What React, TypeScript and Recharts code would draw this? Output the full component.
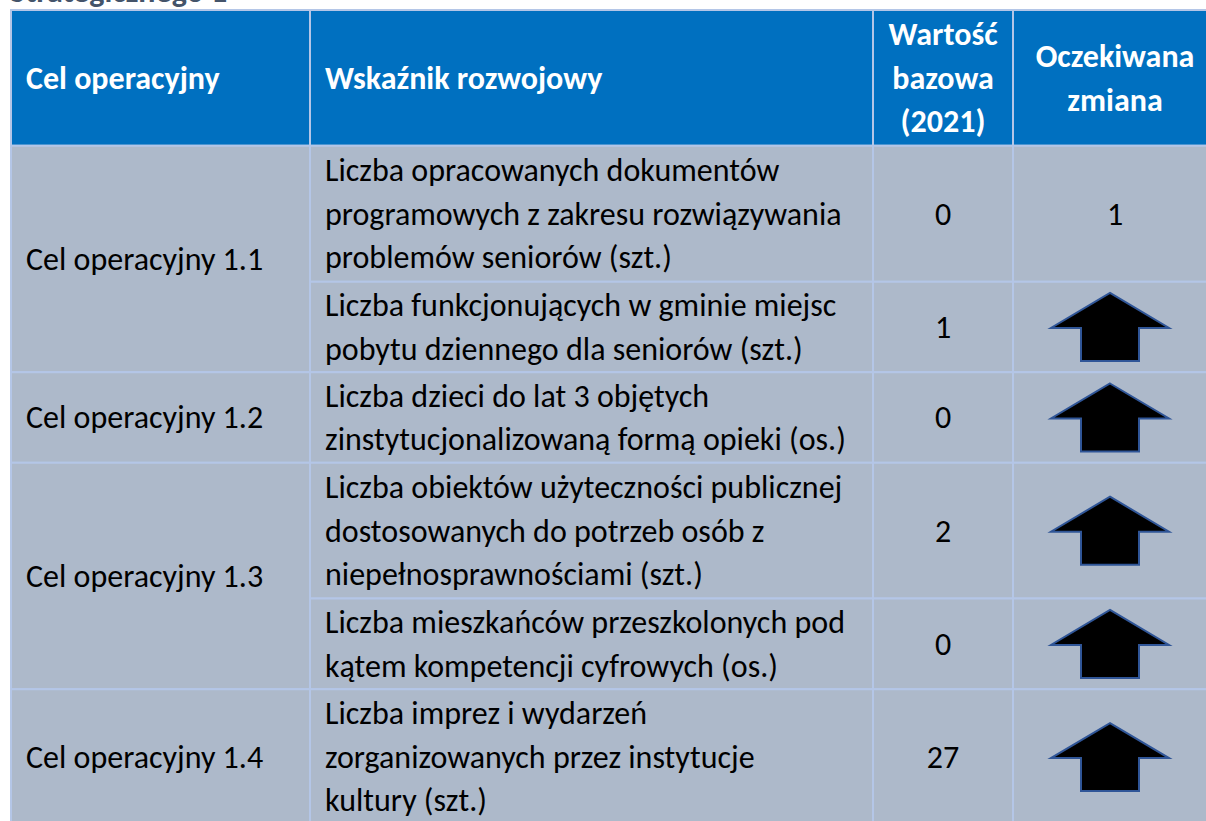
import { ComposedChart, XAxis, YAxis, ReferenceArea, Scatter } from "recharts";

const HEADERS = [
  ["Cel operacyjny"],
  ["Wskaźnik rozwojowy"],
  ["Wartość", "bazowa", "(2021)"],
  ["Oczekiwana", "zmiana"],
];
const GOALS = ["Cel operacyjny 1.1", "Cel operacyjny 1.2", "Cel operacyjny 1.3", "Cel operacyjny 1.4"];
const INDICATOR_GOAL = [0, 0, 1, 2, 2, 3];
const INDICATORS = [
  ["Liczba opracowanych dokumentów", "programowych z zakresu rozwiązywania", "problemów seniorów (szt.)"],
  ["Liczba funkcjonujących w gminie miejsc", "pobytu dziennego dla seniorów (szt.)"],
  ["Liczba dzieci do lat 3 objętych", "zinstytucjonalizowaną formą opieki (os.)"],
  ["Liczba obiektów użyteczności publicznej", "dostosowanych do potrzeb osób z", "niepełnosprawnościami (szt.)"],
  ["Liczba mieszkańców przeszkolonych pod", "kątem kompetencji cyfrowych (os.)"],
  ["Liczba imprez i wydarzeń", "zorganizowanych przez instytucje", "kultury (szt.)"],
];
const BASE_VALUES = [0, 1, 0, 2, 0, 27];
const EXPECTED_CHANGE = ["1", "up", "up", "up", "up", "up"];

// layout
const COL_WIDTHS = [299, 563, 140, 204];
const FONT = "Carlito, Calibri, 'Open Sans', sans-serif";
const FONT_SIZE = 32;
const LINE_H = 43.5;
const HEADER_BG = "#0070c0";
const BODY_BG = "#adb9ca";
const GRID = "#b4c6e7";

const colEdges = COL_WIDTHS.reduce<number[]>((acc, w) => [...acc, acc[acc.length - 1] + w], [0]);
const headerLines = Math.max(...HEADERS.map((h) => h.length));
const rowEdges = INDICATORS.reduce<number[]>((acc, t) => [...acc, acc[acc.length - 1] + t.length], [headerLines]);
const totalLines = rowEdges[rowEdges.length - 1];

const arrowData = EXPECTED_CHANGE.map((c, i) => ({ c, i }))
  .filter((d) => d.c === "up")
  .map((d) => ({ x: (colEdges[3] + colEdges[4]) / 2, y: (rowEdges[d.i] + rowEdges[d.i + 1]) / 2 }));

function CellLabel(props: any) {
  const { viewBox, lines, align, bold, color } = props;
  if (!viewBox) return null;
  const { x, y, width, height } = viewBox;
  const cy = y + height / 2;
  const n = lines.length;
  const tx = align === "left" ? x + 15 : x + width / 2;
  return (
    <text
      x={tx}
      textAnchor={align === "left" ? "start" : "middle"}
      fontFamily={FONT}
      fontSize={FONT_SIZE}
      fontWeight={bold ? 700 : 400}
      fill={color}
    >
      {lines.map((l: string, i: number) => (
        <tspan key={i} x={tx} y={cy + (i - (n - 1) / 2) * LINE_H + FONT_SIZE * 0.34}>
          {l}
        </tspan>
      ))}
    </text>
  );
}

function Arrow(props: any) {
  const { cx, cy } = props;
  const x = cx - 5;
  const top = cy - 34;
  const shoulder = cy + 1;
  const bottom = cy + 34;
  const pts = [
    [x, top],
    [x + 59, shoulder],
    [x + 29, shoulder],
    [x + 29, bottom],
    [x - 29, bottom],
    [x - 29, shoulder],
    [x - 59, shoulder],
  ]
    .map((p) => p.join(","))
    .join(" ");
  return <polygon points={pts} fill="#000" stroke="#2f5597" strokeWidth={2} strokeLinejoin="miter" />;
}

function cell(key: string, x1: number, x2: number, y1: number, y2: number, fill: string, lines: string[], align: string, bold: boolean, color: string) {
  return (
    <ReferenceArea
      key={key}
      x1={x1}
      x2={x2}
      y1={y1}
      y2={y2}
      fill={fill}
      fillOpacity={1}
      stroke={GRID}
      strokeWidth={2}
      ifOverflow="visible"
      label={<CellLabel lines={lines} align={align} bold={bold} color={color} />}
    />
  );
}

export default function App() {
  const goalSpans = GOALS.map((g, gi) => {
    const idx = INDICATOR_GOAL.map((v, i) => (v === gi ? i : -1)).filter((i) => i >= 0);
    return { g, y1: rowEdges[idx[0]], y2: rowEdges[idx[idx.length - 1] + 1] };
  });

  return (
    <div style={{ position: "absolute", left: 0, top: 0, width: 1206, height: 821, overflow: "hidden", background: "#fff" }}>
      <svg width={1206} height={10} style={{ position: "absolute", left: 0, top: 0 }}>
        <text x={10} y={2} fontFamily={FONT} fontSize={FONT_SIZE} fontWeight={700} fill="#44546a">
          Strategicznego 1
        </text>
      </svg>
      <div style={{ position: "absolute", left: 0, top: 0 }}>
        <ComposedChart width={1230} height={830} margin={{ top: 10, left: 11, right: 13, bottom: 5 }}>
          <XAxis type="number" dataKey="x" domain={[0, colEdges[4]]} hide allowDataOverflow />
          <YAxis type="number" dataKey="y" domain={[0, totalLines]} reversed hide allowDataOverflow />
          {HEADERS.map((h, i) =>
            cell(`h${i}`, colEdges[i], colEdges[i + 1], 0, headerLines, HEADER_BG, h, i < 2 ? "left" : "center", true, "#fff")
          )}
          {goalSpans.map((s, i) =>
            cell(`g${i}`, colEdges[0], colEdges[1], s.y1, s.y2, BODY_BG, [s.g], "left", false, "#000")
          )}
          {INDICATORS.map((t, i) =>
            cell(`i${i}`, colEdges[1], colEdges[2], rowEdges[i], rowEdges[i + 1], BODY_BG, t, "left", false, "#000")
          )}
          {BASE_VALUES.map((v, i) =>
            cell(`b${i}`, colEdges[2], colEdges[3], rowEdges[i], rowEdges[i + 1], BODY_BG, [String(v)], "center", false, "#000")
          )}
          {EXPECTED_CHANGE.map((c, i) =>
            cell(`c${i}`, colEdges[3], colEdges[4], rowEdges[i], rowEdges[i + 1], BODY_BG, c === "up" ? [] : [c], "center", false, "#000")
          )}
          <Scatter data={arrowData} dataKey="y" isAnimationActive={false} shape={(p: any) => <Arrow cx={p.cx} cy={p.cy} />} />
        </ComposedChart>
      </div>
    </div>
  );
}
